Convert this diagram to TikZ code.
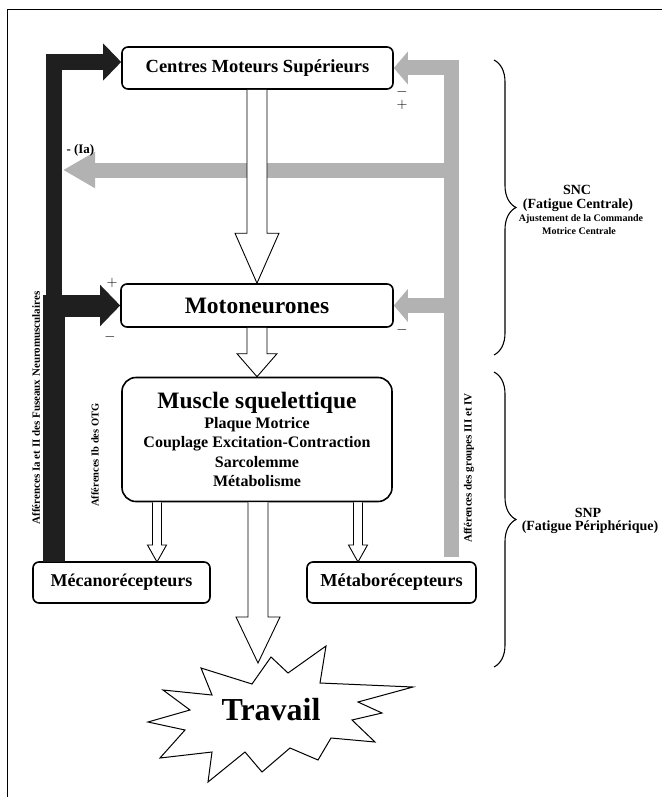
\documentclass[tikz,border=0pt]{standalone}
\usepackage{fontspec}
\setmainfont{Liberation Serif}
\usepackage{tikz}
\usetikzlibrary{arrows.meta, calc, decorations.pathreplacing}
\tikzset{
  boite/.style={draw, line width=1.6pt, rounded corners=6pt, fill=white, inner sep=0pt},
  creux/.style={draw, line width=0.9pt, fill=white, line join=miter},
  fuseau/.style={draw=black!88, line join=miter, line width=16pt, -{Triangle[length=18pt,width=36pt]}},
  groupe/.style={draw=black!30, line join=miter, line width=15pt, -{Triangle[length=14pt,width=32pt]}},
  signe/.style={font=\fontsize{14}{14}\selectfont},
  accol/.style={decorate, decoration={brace, amplitude=22pt}, line width=1.1pt},
  lateral/.style={rotate=90, font=\bfseries\fontsize{11}{11}\selectfont}
}
% hollow vertical arrow: start, tip, half shaft, half head, head length
\newcommand{\flechecreuse}[5]{%
  \draw[creux] let \p1=#1, \p2=#2 in
    (\x2-#3pt,\y1) -- (\x2-#3pt,\y2+#5pt) -- (\x2-#4pt,\y2+#5pt) -- (\x2,\y2)
    -- (\x2+#4pt,\y2+#5pt) -- (\x2+#3pt,\y2+#5pt) -- (\x2+#3pt,\y1);
}

\begin{document}
\begin{tikzpicture}[x=1pt, y=-1pt]
  \useasboundingbox (0,0) rectangle (662,797);
  \draw[line width=0.8pt] (662,9) -| (7,797);

  % boxes
  \node[boite, minimum width=271pt, minimum height=42pt, font=\bfseries\fontsize{18.5}{20}\selectfont] (centres) at (257.5,68) {Centres Moteurs Supérieurs};
  \node[boite, minimum width=272pt, minimum height=43pt, font=\bfseries\fontsize{23.5}{25}\selectfont] (moto) at (257,305.5) {Motoneurones};
  \node[boite, rounded corners=14pt, minimum width=270pt, minimum height=124pt, align=center, font=\bfseries\fontsize{16}{19.5}\selectfont] (muscle) at (257,439.5)
    {{\fontsize{23.5}{25}\selectfont Muscle squelettique}\\ Plaque Motrice\\ Couplage Excitation-Contraction\\ Sarcolemme\\ Métabolisme};
  \node[boite, minimum width=177pt, minimum height=41pt, font=\bfseries\fontsize{18}{20}\selectfont] (meca) at (121.5,582.5) {Mécanorécepteurs};
  \node[boite, minimum width=169pt, minimum height=41pt, font=\bfseries\fontsize{18.3}{20}\selectfont] (metabo) at (391.5,582.5) {Métaborécepteurs};

  % afferences III et IV (grey)
  \coordinate (grp) at (451,557);
  \coordinate (ia) at (63,170);
  \draw[groupe] (grp) |- (centres.east);
  \draw[groupe] (grp) |- (moto.east);
  \draw[groupe, -{Triangle[length=32pt,width=34pt]}] (grp) |- (ia);

  % afferences Ia et II (black)
  \coordinate (fus) at (53.5,562);
  \draw[fuseau] (fus) |- ([yshift=6pt]centres.west);
  \draw[fuseau, line width=22pt, -{Triangle[length=20pt,width=40pt]}] (fus) |- (moto.west);

  % travail
  \draw[line width=1pt, fill=white] (201,668) -- (252,684) -- (271,657) -- (288,673) -- (326,646)
    -- (320,683) -- (413,687) -- (358,702) -- (382,713) -- (352,720) -- (375,742) -- (331,738)
    -- (318,760) -- (290,748) -- (262,772) -- (245,752) -- (208,782) -- (212,752) -- (160,758)
    -- (185,730) -- (148,722) -- (190,710) -- (163,690) -- (212,695) -- cycle;
  \node[font=\bfseries\fontsize{32}{34}\selectfont] (travail) at (271,710) {Travail};

  % hollow arrows
  \coordinate (cible) at (258,663);
  \coordinate (mecin) at (157,562);
  \coordinate (metin) at (358,562);
  \flechecreuse{(centres.south)}{(moto.north)}{10}{22}{50}
  \flechecreuse{(moto.south)}{(muscle.north)}{10}{20}{23}
  \flechecreuse{(muscle.south)}{(cible)}{10}{22}{46}
  \flechecreuse{(muscle.south)}{(mecin)}{4.5}{9.5}{17}
  \flechecreuse{(muscle.south)}{(metin)}{4.5}{9.5}{17}

  % signs
  \node[signe] (s1) at (402,92) {$-$};
  \node[signe] (s2) at (402,105) {$+$};
  \node[signe] (s3) at (402,330) {$-$};
  \node[signe] (s4) at (112,283) {$+$};
  \node[signe] (s5) at (110,337) {$-$};
  \node[font=\bfseries\fontsize{13}{13}\selectfont, anchor=west] (ialab) at (63,150) {- (Ia)};

  % side labels
  \node[lateral] (lfus) at (36,408) {Afférences Ia et II des Fuseaux Neuromusculaires};
  \node[lateral, font=\bfseries\fontsize{10.5}{10.5}\selectfont] (lotg) at (95,455) {Afférences Ib des OTG};
  \node[lateral] (lgrp) at (469,468) {Afférences des groupes III et IV};

  % braces
  \draw[accol] (494,60) -- (494,355);
  \draw[accol] (494,372) -- (494,667);
  \node[font=\bfseries\fontsize{14}{14}\selectfont] (snc) at (577,190) {SNC};
  \node[font=\bfseries\fontsize{14}{14}\selectfont] (fc) at (578,205) {(Fatigue Centrale)};
  \node[font=\bfseries\fontsize{10}{10}\selectfont] (aj1) at (581,219) {Ajustement de la Commande};
  \node[font=\bfseries\fontsize{10}{10}\selectfont] (aj2) at (579,231) {Motrice Centrale};
  \node[font=\bfseries\fontsize{14}{14}\selectfont] (snp) at (588,513) {SNP};
  \node[font=\bfseries\fontsize{14}{14}\selectfont] (fp) at (590,527) {(Fatigue Périphérique)};
\end{tikzpicture}
\end{document}
